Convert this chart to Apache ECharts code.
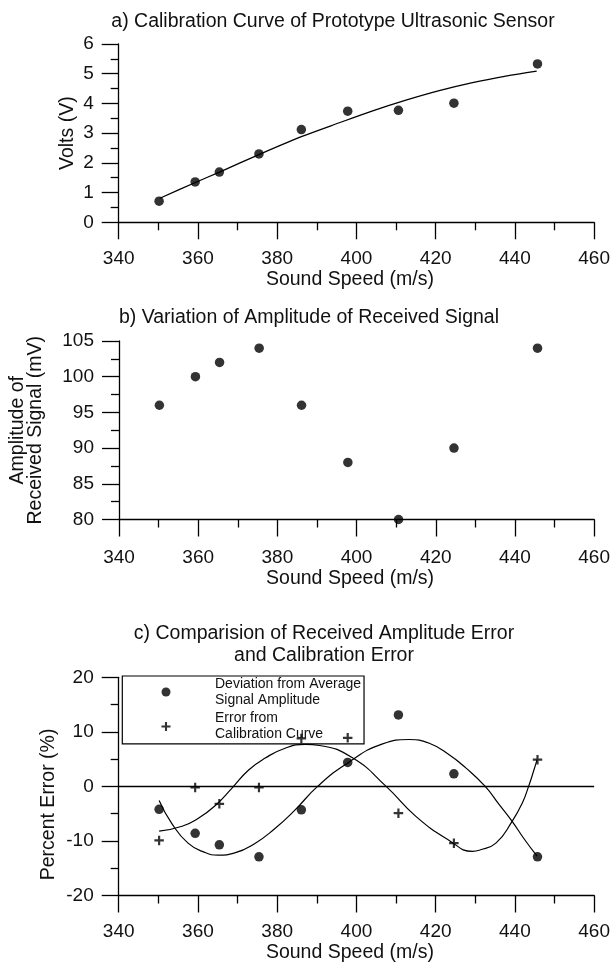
<!DOCTYPE html>
<html>
<head>
<meta charset="utf-8">
<script src="https://cdn.jsdelivr.net/npm/echarts@6/dist/echarts.min.js"></script>
<style>
html,body{margin:0;padding:0;background:#fff;}
#chart{width:613px;height:964px;}
</style>
</head>
<body>
<div id="chart"></div>
<script>
// ---- data ----
const soundSpeed = [350.2, 359.3, 365.4, 375.4, 386.1, 397.8, 410.6, 424.6, 445.7];
const volts = [0.71, 1.36, 1.69, 2.30, 3.12, 3.74, 3.77, 4.01, 5.33];
const calibFitSpeed = [350.4, 359.2, 365.6, 375.1, 386.1, 395.7, 404.1, 412.5, 420.9, 429.3, 437.7, 445.5];
const calibFitVolts = [0.81, 1.33, 1.70, 2.26, 2.88, 3.35, 3.75, 4.11, 4.43, 4.70, 4.92, 5.09];
const amplitude = [96, 100, 102, 104, 96, 88, 80, 90, 104];
const deviationPct = [-4.2, -8.6, -10.7, -12.9, -4.3, 4.4, 13.1, 2.3, -12.9];
const calibErrorPct = [-9.9, -0.2, -3.2, -0.2, 8.8, 8.9, -4.9, -10.4, 4.9];
const devFitSpeed = [350.2, 353.3, 357.5, 361.7, 365.1, 369.3, 374.3, 379.3, 384.4, 390.2, 397.8, 406.6, 413.3, 418.4, 423.4, 427.6, 432.5, 436.0, 439.3, 442.3, 445.6];
const devFitPct = [-2.6, -6.7, -10.4, -12.1, -12.6, -12.2, -10.5, -7.8, -4.4, 0, 4.3, 7.8, 8.6, 7.9, 5.8, 3.4, 0, -3.3, -6.4, -9.6, -12.8];
const errFitSpeed = [350.2, 356.0, 360.2, 364.4, 368.6, 372.8, 377.0, 382.0, 387.1, 390.7, 399.1, 407.5, 415.0, 423.4, 429.3, 431.0, 435.2, 439.3, 441.9, 443.5, 444.8, 445.6];
const errFitPct = [-8.2, -7.3, -5.8, -3.5, -0.3, 3.0, 5.2, 7.0, 7.7, 7.5, 5.2, 0, -5.5, -9.9, -11.9, -11.7, -10.4, -6.4, -3.0, 0.1, 3.0, 4.9];
const titles = ['a) Calibration Curve of Prototype Ultrasonic Sensor', 'b) Variation of Amplitude of Received Signal', 'c) Comparision of Received Amplitude Error\nand Calibration Error'];
const legendNames = ['Deviation from Average Signal Amplitude', 'Error from Calibration Curve'];
const legendLabels = {'Deviation from Average Signal Amplitude': 'Deviation from Average\nSignal Amplitude', 'Error from Calibration Curve': 'Error from\nCalibration Curve'};

const zip = (xs, ys) => xs.map((x, i) => [x, ys[i]]);
const FONT = '"Liberation Sans", Arial, Helvetica, sans-serif';
const INK = '#111';
const lineS = {color: '#000', width: 1.3};
const plusPath = 'path://M-1.15,-5H1.15V-1.15H5V1.15H1.15V5H-1.15V1.15H-5V-1.15H-1.15Z';

function xAxis(gi, labelMargin, nameGap) {
  return {
    type: 'value', gridIndex: gi, min: 340, max: 460, interval: 20,
    name: 'Sound Speed (m/s)', nameLocation: 'middle', nameGap: nameGap, nameMoveOverlap: false,
    nameTextStyle: {fontSize: 19.5, color: INK, fontFamily: FONT, padding: [0, 13, 0, 0]},
    axisLine: {onZero: false, lineStyle: lineS},
    axisTick: {length: 17, lineStyle: lineS},
    minorTick: {show: true, splitNumber: 2, length: 8, lineStyle: lineS},
    axisLabel: {fontSize: 19, color: INK, fontFamily: FONT, margin: labelMargin, showMinLabel: true, showMaxLabel: true},
    splitLine: {show: false}, minorSplitLine: {show: false}
  };
}
function yAxis(gi, min, max, interval, name, nameGap, lh, pad) {
  return {
    type: 'value', gridIndex: gi, min: min, max: max, interval: interval,
    name: name, nameLocation: 'middle', nameGap: nameGap, nameMoveOverlap: false,
    nameTextStyle: {fontSize: 19.5, color: INK, fontFamily: FONT, lineHeight: lh, padding: pad},
    axisLine: {onZero: false, lineStyle: lineS},
    axisTick: {length: 17, lineStyle: lineS},
    minorTick: {show: true, splitNumber: 2, length: 8, lineStyle: lineS},
    axisLabel: {fontSize: 19, color: INK, fontFamily: FONT, margin: 25, showMinLabel: true, showMaxLabel: true},
    splitLine: {show: false}, minorSplitLine: {show: false}
  };
}

const chart = echarts.init(document.getElementById('chart'), null, {renderer: 'canvas'});
const option = {
  backgroundColor: '#fff',
  animation: false,
  title: [
    {text: titles[0], left: 333, top: 12, textAlign: 'center', padding: 0, textStyle: {fontSize: 19.5, fontWeight: 'normal', color: INK, fontFamily: FONT}},
    {text: titles[1], left: 309, top: 308, textAlign: 'center', padding: 0, textStyle: {fontSize: 19.5, fontWeight: 'normal', color: INK, fontFamily: FONT}},
    {text: titles[2], left: 324, top: 622.5, textAlign: 'center', padding: 0, textStyle: {fontSize: 19.5, fontWeight: 'normal', color: INK, fontFamily: FONT, lineHeight: 22}}
  ],
  grid: [
    {left: 118.7, right: 17.6, top: 44, height: 178.3},
    {left: 118.7, right: 17.6, top: 341, height: 178.5},
    {left: 118.7, right: 17.6, top: 677.3, height: 218.4}
  ],
  xAxis: [xAxis(0, 26.5, 47.5), xAxis(1, 28.5, 49.5), xAxis(2, 27, 47.5)],
  yAxis: [
    yAxis(0, 0, 6, 1, 'Volts (V)', 41, 20, 0),
    yAxis(1, 80, 105, 5, 'Amplitude of\nReceived Signal (mV)', 74, 18, 0),
    yAxis(2, -20, 20, 10, 'Percent Error (%)', 60, 20, [0, 36, 0, 0])
  ],
  legend: {
    data: legendNames, orient: 'vertical', left: 122.3, top: 676,
    padding: [0, 3, 1.3, 39.2], itemGap: 2.5, itemWidth: 9, itemHeight: 9,
    borderColor: '#000', borderWidth: 1.2, selectedMode: false,
    formatter: n => legendLabels[n],
    textStyle: {fontSize: 14, lineHeight: 16, color: INK, fontFamily: FONT, padding: [0, 0, 0, 39.5]}
  },
  series: [
    {type: 'scatter', xAxisIndex: 0, yAxisIndex: 0, symbol: 'circle', symbolSize: 9.5, itemStyle: {color: '#000'}, data: zip(soundSpeed, volts)},
    {type: 'line', xAxisIndex: 0, yAxisIndex: 0, smooth: 0.3, showSymbol: false, lineStyle: {color: '#000', width: 1.3}, data: zip(calibFitSpeed, calibFitVolts)},
    {type: 'scatter', xAxisIndex: 1, yAxisIndex: 1, symbol: 'circle', symbolSize: 9.5, itemStyle: {color: '#000'}, data: zip(soundSpeed, amplitude)},
    {name: legendNames[0], type: 'scatter', xAxisIndex: 2, yAxisIndex: 2, symbol: 'circle', symbolSize: 9.5, itemStyle: {color: '#000'}, data: zip(soundSpeed, deviationPct), z: 3,
      markLine: {silent: true, symbol: ['none', 'none'], label: {show: false}, lineStyle: {color: '#000', width: 1.3, type: 'solid'}, data: [{yAxis: 0}]}},
    {name: legendNames[1], type: 'scatter', xAxisIndex: 2, yAxisIndex: 2, symbol: plusPath, symbolSize: 9.5, itemStyle: {color: '#000'}, data: zip(soundSpeed, calibErrorPct), z: 3},
    {type: 'line', xAxisIndex: 2, yAxisIndex: 2, smooth: 0.5, showSymbol: false, lineStyle: {color: '#000', width: 1.2}, data: zip(devFitSpeed, devFitPct)},
    {type: 'line', xAxisIndex: 2, yAxisIndex: 2, smooth: 0.5, showSymbol: false, lineStyle: {color: '#000', width: 1.2}, data: zip(errFitSpeed, errFitPct)}
  ]
};
chart.setOption(option);
</script>
</body>
</html>
